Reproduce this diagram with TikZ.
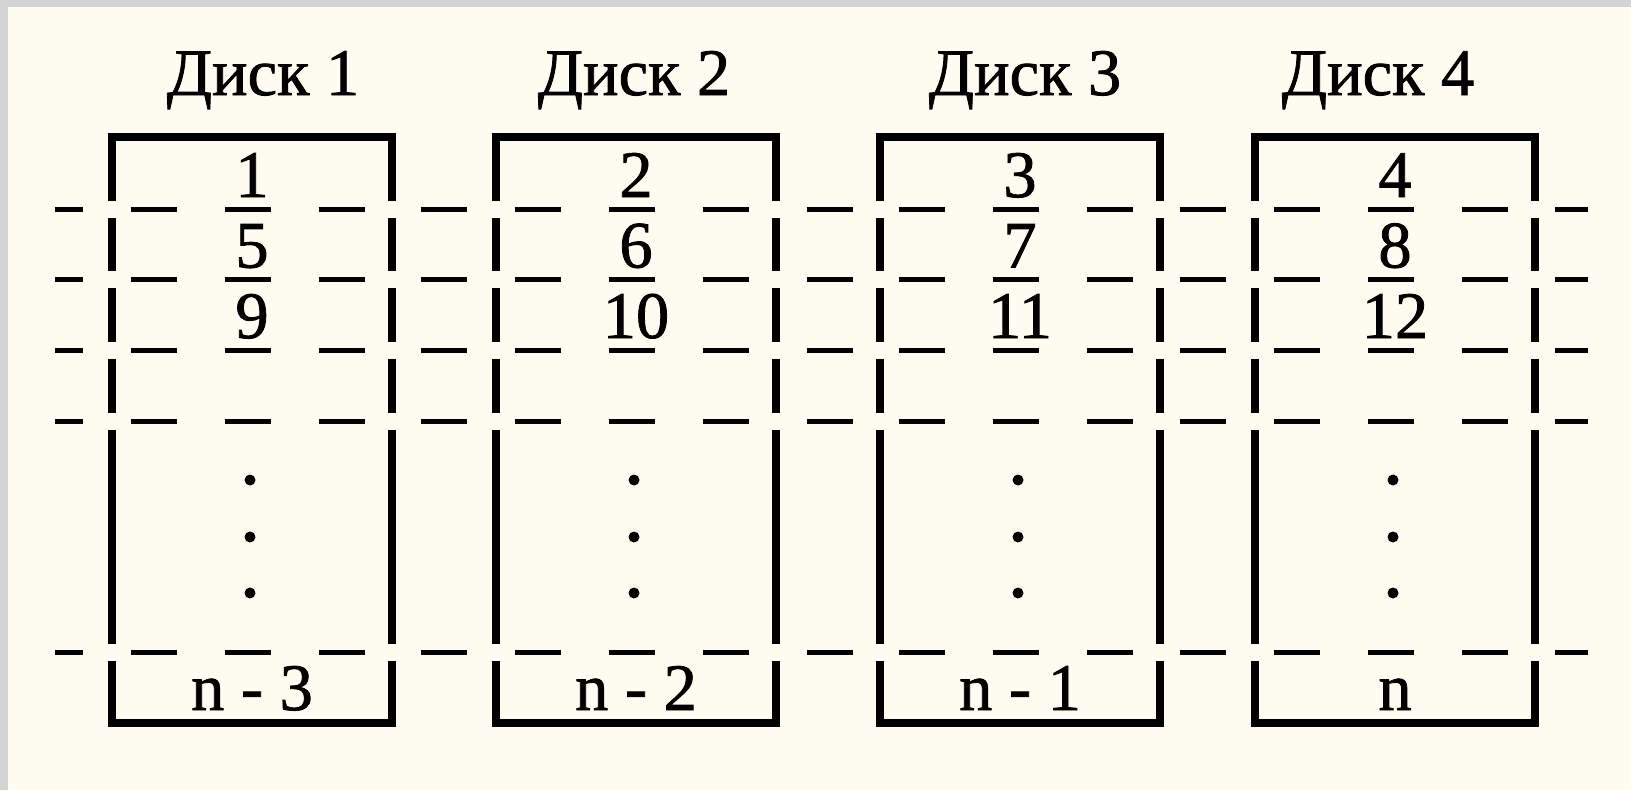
\documentclass[tikz,border=0pt]{standalone}
\usepackage{fontspec}
\setmainfont{Liberation Serif}[FakeBold=1.2]
\definecolor{papier}{RGB}{254,252,240}
\definecolor{rahmen}{RGB}{212,212,212}
\begin{document}
\begin{tikzpicture}[
        disk/.style={line width=0.8mm, line join=miter},
        strich/.style={line width=0.5mm},
        luecke/.style={papier, line width=1.7mm},
        txt/.style={font=\fontsize{18.9}{22}\selectfont, inner sep=0pt, anchor=base}
    ]

            % Hintergrund mit grauem Rand oben und links
            \useasboundingbox (0,0) rectangle (16.31,7.90);
            \fill[papier] (0,0) rectangle (16.31,7.90);
            \fill[rahmen] (0,0) rectangle (0.08,7.90);
            \fill[rahmen] (0,7.83) rectangle (16.31,7.90);

            % Vier Disks: Mitte / Titel-x / Nummer / Label unten
            \foreach \cx/\tx/\k/\unten in {2.52/2.63/1/n - 3, 6.36/6.34/2/n - 2,
                    10.20/10.25/3/n - 1, 13.95/13.78/4/n} {
                    % Rahmen der Disk
                    \draw[disk] (\cx-1.40,0.67) rectangle (\cx+1.40,6.53);
                    % Luecken in den Seiten und gestrichelte Streifengrenzen
                    \foreach \y in {5.81,5.11,4.40,3.69,1.38} {
                            \draw[luecke] (\cx-1.48,\y) -- (\cx-1.32,\y);
                            \draw[luecke] (\cx+1.32,\y) -- (\cx+1.48,\y);
                            \foreach \dx in {-0.94,0,0.94}
                            \draw[strich] (\cx-0.045+\dx-0.23,\y) -- (\cx-0.045+\dx+0.23,\y);
                        }
                    % Titel
                    \node[txt] (titel\k) at (\tx,6.95) {Диск \k};
                    % Blocknummern 1..12
                    \foreach \r in {0,1,2} {
                            \pgfmathtruncatemacro{\nr}{\k+4*\r}
                            \node[txt] (block\k-\r) at (\cx,5.93-0.705*\r) {\nr};
                        }
                    % Punkte
                    \foreach \y in {3.10,2.53,1.97}
                    \fill (\cx-0.02,\y) circle (0.055);
                    % letzter Block
                    \node[txt] (letzter\k) at (\cx,0.80) {\unten};
                }

            % Striche zwischen den Disks und aussen
            \foreach \y in {5.81,5.11,4.40,3.69,1.38} {
                    \foreach \mx in {4.435,8.295,12.025}
                    \draw[strich] (\mx-0.23,\y) -- (\mx+0.23,\y);
                    \draw[strich] (0.55,\y) -- (0.83,\y);
                    \draw[strich] (15.55,\y) -- (15.88,\y);
                }

        \end{tikzpicture}
\end{document}
